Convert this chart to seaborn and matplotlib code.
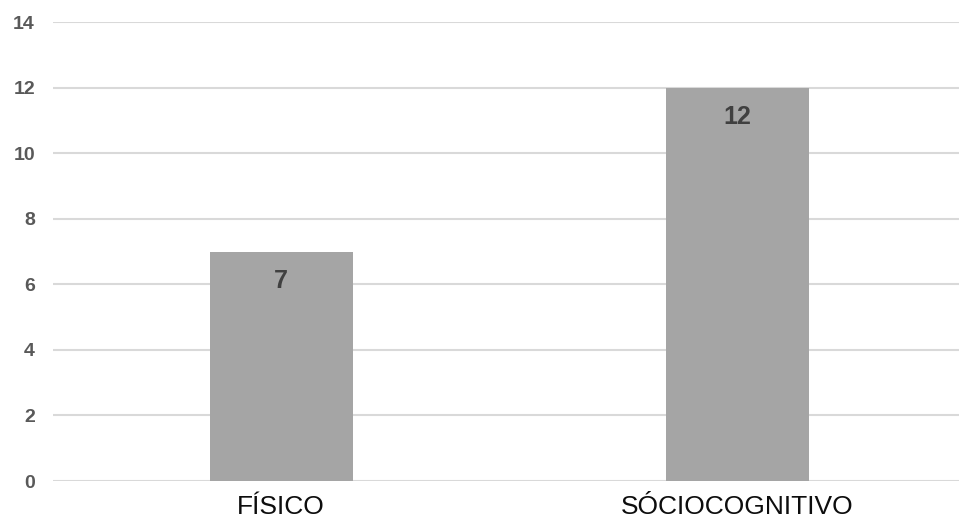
import seaborn as sns
import matplotlib.pyplot as plt
import pandas as pd

# chart data
categorias = ["FÍSICO", "SÓCIOCOGNITIVO"]
valores = [7, 12]
y_ticks = [0, 2, 4, 6, 8, 10, 12, 14]

sns.set_style("white")
plt.rcParams['font.family'] = ['Liberation Sans', 'DejaVu Sans']

df = pd.DataFrame({"categoria": categorias, "valor": valores})

fig = plt.figure(figsize=(9.59, 5.23), dpi=100)
ax = fig.add_axes([53 / 959, 42 / 523, 906 / 959, 459 / 523])

sns.barplot(data=df, x="categoria", y="valor", color="#A5A5A5", width=0.313,
            saturation=1, edgecolor="none", linewidth=0, ax=ax, zorder=3)

for i, v in enumerate(valores):
    ax.annotate(str(v), xy=(i, v), xytext=(0, -21), textcoords="offset points",
                ha="center", va="center", fontsize=18, fontweight="bold", color="#404040")

ax.set_ylim(0, 14)
ax.set_xlim(-0.5, 1.485)
ax.set_yticks(y_ticks)
ax.yaxis.grid(True, color="#D9D9D9", linewidth=1.5, zorder=0)
ax.set_axisbelow(True)
ax.set(xlabel="", ylabel="")
sns.despine(left=True, bottom=True)

ax.tick_params(axis="y", length=0, pad=13, labelsize=14, labelcolor="#595959")
for lbl in ax.get_yticklabels():
    lbl.set_fontweight("bold")
ax.tick_params(axis="x", length=0, pad=10, labelsize=19, labelcolor="#0d0d0d")

fig.savefig("out.png", dpi=100)
